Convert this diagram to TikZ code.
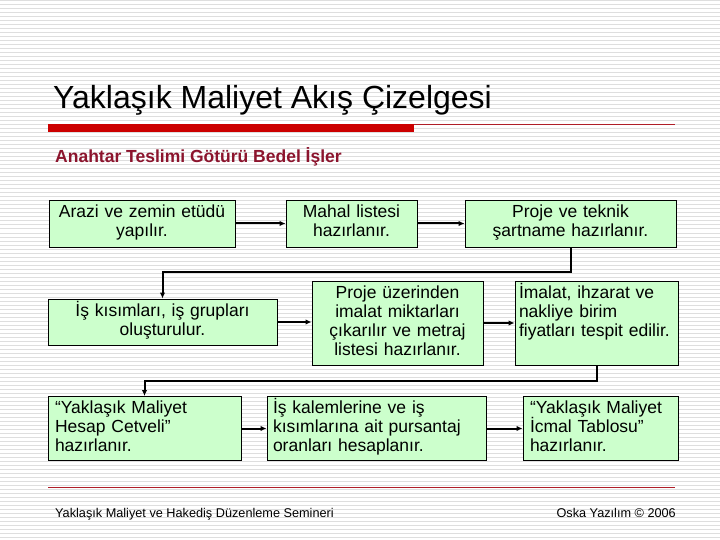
\documentclass[tikz,border=0pt]{standalone}
\usepackage{fontspec}
\setmainfont{Liberation Sans}
\usetikzlibrary{arrows.meta}
\definecolor{boxgreen}{RGB}{204,255,204}
\definecolor{barred}{RGB}{204,0,0}
\definecolor{thinred}{RGB}{176,30,40}
\definecolor{subred}{RGB}{140,20,45}
\definecolor{stripegray}{RGB}{222,222,222}
\newcommand{\boxstart}{\fontsize{17.5}{19}\selectfont\setlength{\baselineskip}{19pt}\setlength{\lineskiplimit}{-20pt}\rule{0pt}{16pt}}
\newcommand{\boxend}{\rule[-8.4pt]{0pt}{8.4pt}}
\tikzset{
  flowbox/.style={draw=black, line width=0.9pt, fill=boxgreen, inner sep=0pt,
    font=\fontsize{17.5}{19}\selectfont,
    execute at begin node=\boxstart, execute at end node=\boxend},
  conn/.style={line width=2pt, -{Latex[length=6pt,width=5.5pt]}},
  stripe/.style={stripegray, line width=1pt}
}
\begin{document}
\begin{tikzpicture}[x=1pt,y=-1pt]
\useasboundingbox (0,0) rectangle (720,540);
\fill[white] (0,0) rectangle (720,540);
\foreach \yy in {1,5,...,539} \draw[stripe] (0,\yy) -- (720,\yy);

% title
\node[anchor=base west, inner sep=0pt, font=\fontsize{32}{36}\selectfont] (title) at (53,109) {Yaklaşık Maliyet Akış Çizelgesi};
\fill[barred] (48,124) rectangle (414,132);
\draw[thinred, line width=1pt] (414,124.5) -- (675,124.5);
\node[anchor=base west, inner sep=0pt, text=subred, font=\bfseries\fontsize{17.5}{20}\selectfont] (sub) at (55,163) {Anahtar Teslimi Götürü Bedel İşler};

% row 1
\node[flowbox, minimum width=186pt, minimum height=47pt, text width=174pt, align=center] (A) at (142,223.5) {Arazi ve zemin etüdü\\yapılır.};
\node[flowbox, minimum width=131pt, minimum height=47pt, text width=121pt, align=center] (B) at (351.5,223.5) {Mahal listesi\\hazırlanır.};
\node[flowbox, minimum width=211pt, minimum height=47pt, text width=199pt, align=center] (C) at (570.5,223.5) {Proje ve teknik\\şartname hazırlanır.};

% row 2
\node[flowbox, minimum width=229pt, minimum height=46pt, text width=217pt, align=center] (D) at (162.5,322) {İş kısımları, iş grupları\\oluşturulur.};
\node[flowbox, minimum width=171pt, minimum height=84pt, text width=161pt, align=center] (E) at (397.5,323) {Proje üzerinden\\imalat miktarları\\çıkarılır ve metraj\\listesi hazırlanır.};
\node[flowbox, minimum width=163pt, minimum height=84pt, text width=155pt, align=left] (F) at (596.5,323) {İmalat, ihzarat ve\\nakliye birim\\fiyatları tespit edilir.\\};

% row 3
\node[flowbox, minimum width=193pt, minimum height=64pt, text width=179pt, align=left] (G) at (144.5,428.5) {“Yaklaşık Maliyet\\Hesap Cetveli”\\hazırlanır.};
\node[flowbox, minimum width=219pt, minimum height=64pt, text width=207pt, align=left] (H) at (376.5,428.5) {İş kalemlerine ve iş\\kısımlarına ait pursantaj\\oranları hesaplanır.};
\node[flowbox, minimum width=155pt, minimum height=64pt, text width=141pt, align=left] (I) at (600.5,428.5) {“Yaklaşık Maliyet\\İcmal Tablosu”\\hazırlanır.};

% connectors
\coordinate (k1) at (0,272);
\coordinate (k2) at (0,381);
\draw[conn] (A.east) -- (A.east -| B.west);
\draw[conn] (B.east) -- (B.east -| C.west);
\draw[conn] (C.south) -- (C.south |- k1) -| (D.north);
\draw[conn] (D.east) -- (D.east -| E.west);
\draw[conn] (E.east) -- (E.east -| F.west);
\draw[conn] (F.south) -- (F.south |- k2) -| (G.north);
\draw[conn] (G.east) -- (G.east -| H.west);
\draw[conn] (H.east) -- (H.east -| I.west);

% footer
\draw[thinred, line width=1pt] (48,487) -- (675,487);
\node[anchor=base west, inner sep=0pt, font=\fontsize{12.7}{15}\selectfont] (foot1) at (55,517) {Yaklaşık Maliyet ve Hakediş Düzenleme Semineri};
\node[anchor=base east, inner sep=0pt, font=\fontsize{12.7}{15}\selectfont] (foot2) at (676,517) {Oska Yazılım © 2006};
\end{tikzpicture}
\end{document}
